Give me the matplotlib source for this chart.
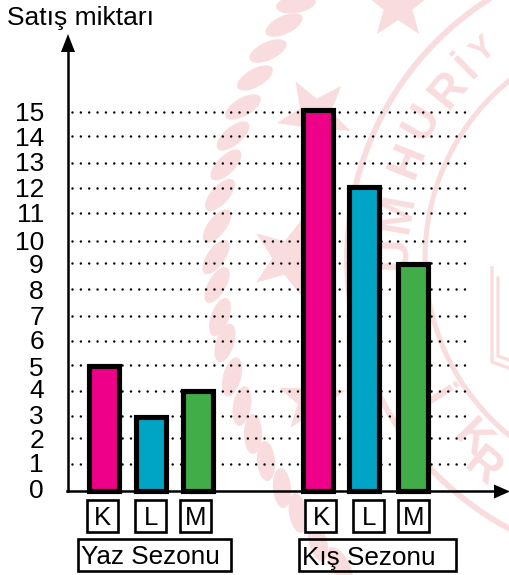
import matplotlib
matplotlib.use("Agg")
import matplotlib.pyplot as plt
import numpy as np
from matplotlib.patches import Arc, Ellipse, Polygon, Rectangle

plt.rcParams["font.family"] = ["Liberation Sans", "DejaVu Sans"]

# Data
seasons = ["Yaz Sezonu", "Kış Sezonu"]
products = ["K", "L", "M"]
summer_sales = [5, 3, 4]
winter_sales = [15, 12, 9]
bar_colors = ["#EE0088", "#00A5C6", "#41AD49"]
y_ticks = list(range(16))

# Layout, in pixels of the 510x575 picture
W, H = 510, 575
Y0 = 493
PX_PER_UNIT = 25.5
summer_x = [104.5, 151.5, 198]
winter_x = [318, 364.5, 413.5]
summer_box_x = [102.5, 151, 196]
winter_box_x = [321, 369, 414]
# the hand-drawn grid and tick labels sit a little off the regular step
grid_px = [None, 464, 438, 416, 391, 365, 341, 316, 289, 263, 241, 213, 188, 163, 136, 112]
label_px = [488, 463, 439, 414, 389, 366, 340, 316, 290, 264, 241, 213, 188, 162, 137, 112]
PINK = "#F9DCDD"
RING_C = (654, 258)


def px_to_val(py):
    return (Y0 - py) / PX_PER_UNIT


def draw_watermark(ax):
    for r, lw in [(307, 4.2), (229, 3.6)]:
        ax.add_patch(Arc(RING_C, 2 * r, 2 * r, color=PINK, lw=lw, zorder=0))
    stars = [(398, 5, 36, 0), (315, 115, 39, -30), (290, 258, 42, -54), (312, 400, 35, 2)]
    for sx, sy, r, rot in stars:
        ang = np.deg2rad(np.arange(0, 360, 36) + rot - 90)
        rad = np.where(np.arange(10) % 2 == 0, r, r * 0.42)
        ax.add_patch(Polygon(np.c_[sx + rad * np.cos(ang), sy + rad * np.sin(ang)], color=PINK, lw=0, zorder=0))
    leaves = [(296, 4, -10), (284, 25, -25), (268, 51, -25), (255, 78, -30), (243, 107, -30),
              (233, 136, -40), (226, 165, -45), (220, 195, -48), (217, 226, -52), (216, 257, -55),
              (217, 285, -60), (220, 317, -70), (225, 343, -72), (232, 377, -75), (242, 406, -80),
              (253, 434, 90), (266, 461, 85), (282, 488, 85), (298, 513, 80), (318, 542, 75), (340, 565, 60)]
    for lx, ly, rot in leaves:
        ax.add_patch(Ellipse((lx, ly), 40, 18, angle=rot, color=PINK, lw=0, zorder=0))
    for pts in [[(492, 268), (492, 362), (509, 368)], [(498, 278), (498, 356), (509, 360)]]:
        ax.plot(*zip(*pts), color=PINK, lw=2.4, zorder=0)
    upper = [("U", 395, 253, 33), ("M", 398, 213, 33), ("H", 408, 160, 33), ("U", 422, 123, 33),
             ("R", 449, 90, 33), ("İ", 468, 68, 30), ("Y", 484, 50, 24)]
    lower = [("İ", 432, 400, 33), ("K", 472, 440, 33), ("R", 482, 468, 33)]
    for ch, lx, ly, size in upper:
        rot = np.degrees(np.arctan2(RING_C[0] - lx, RING_C[1] - ly))
        ax.text(lx, ly, ch, color=PINK, fontsize=size, fontweight="bold", rotation=rot,
                rotation_mode="anchor", ha="center", va="center", zorder=0)
    for ch, lx, ly, size in lower:
        rot = np.degrees(np.arctan2(lx - RING_C[0], ly - RING_C[1]))
        ax.text(lx, ly, ch, color=PINK, fontsize=size, fontweight="bold", rotation=rot,
                rotation_mode="anchor", ha="center", va="center", zorder=0)


def boxed(ax, x, y, txt, w, h, size):
    ax.add_patch(Rectangle((x - w / 2, y - h / 2), w, h, fc="white", ec="black", lw=1.9, zorder=4))
    ax.text(x, y, txt, fontsize=size, ha="center", va="center_baseline", zorder=5)


fig = plt.figure(figsize=(W / 100, H / 100), dpi=100)
bg = fig.add_axes([0, 0, 1, 1])
bg.set_xlim(0, W)
bg.set_ylim(H, 0)
bg.axis("off")
draw_watermark(bg)

ax = fig.add_axes([0, 0, 1, 1], facecolor="none")
ax.set_xlim(0, W)
ax.set_ylim(px_to_val(H), px_to_val(0))
ax.axis("off")

# dotted guide lines
for v, py in zip(y_ticks, grid_px):
    if py is not None:
        ax.plot([72, 466], [px_to_val(py)] * 2, color="black", lw=1.8,
                ls=(0, (0.01, 3.33)), dash_capstyle="round", zorder=1)

# bars; they start a little above zero so the outline ends on the axis line
base = 2.5 / PX_PER_UNIT
for xs, vals in [(summer_x, summer_sales), (winter_x, winter_sales)]:
    ax.bar(xs, np.array(vals) - base, bottom=base, width=30, color=bar_colors, edgecolor="black",
           linewidth=3.7, joinstyle="miter", zorder=3)

# tick labels
for v, py in zip(y_ticks, label_px):
    ax.text(44, px_to_val(py), str(v), fontsize=19, ha="right", va="center_baseline", zorder=5)

# axes with arrow heads
axis_y = px_to_val(491)
ax.plot([68, 68], [px_to_val(50), axis_y], color="black", lw=1.8, zorder=4)
ax.plot([67, 497], [axis_y, axis_y], color="black", lw=1.8, zorder=4)
bg.add_patch(Polygon([[68, 34], [61, 52], [75, 52]], color="black", lw=0, zorder=6))
bg.add_patch(Polygon([[510, 491.5], [494, 484.5], [494, 498.5]], color="black", lw=0, zorder=6))
ax.text(7, px_to_val(16), "Satış miktarı", fontsize=19, ha="left", va="center_baseline", zorder=5)

# category and season boxes
box_ax = fig.add_axes([0, 0, 1, 1], facecolor="none")
box_ax.set_xlim(0, W)
box_ax.set_ylim(H, 0)
box_ax.axis("off")
for x, name in zip(summer_box_x, products):
    boxed(box_ax, x, 515.5, name, 31, 32, 18.5)
for x, name in zip(winter_box_x, products):
    boxed(box_ax, x, 515.5, name, 31, 32, 18.5)
box_ax.add_patch(Rectangle((78.5, 538.5), 153, 32, fc="white", ec="black", lw=1.9, zorder=4))
box_ax.text(81, 555, seasons[0], fontsize=18.8, ha="left", va="center_baseline", zorder=5)
box_ax.add_patch(Rectangle((299, 538.5), 157, 32, fc="none", ec="black", lw=1.9, zorder=4))
box_ax.text(302, 555, seasons[1], fontsize=18.8, ha="left", va="center_baseline", zorder=5)

fig.savefig("out.png", dpi=100)
plt.close(fig)
